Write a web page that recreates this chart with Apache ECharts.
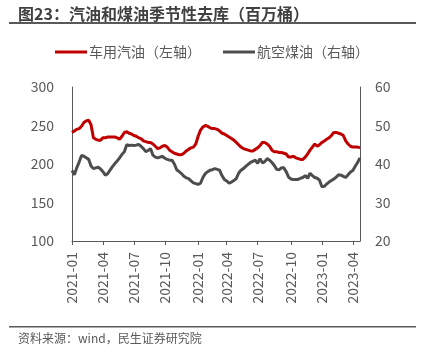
<!DOCTYPE html>
<html>
<head>
<meta charset="utf-8">
<script src="https://cdn.jsdelivr.net/npm/echarts@6/dist/echarts.min.js"></script>
<style>
html,body{margin:0;padding:0;background:#fff;}
#c{width:432px;height:362px;}
</style>
</head>
<body>
<div id="c"></div>
<script>
// weekly dates starting 2021-01-01 (122 weeks)
var startDate = '2021-01-01';
var weekCount = 122;
var quarterMonths = [1, 4, 7, 10];

var gasoline = [
241,243,245,246,249,254,256,257,251,234,
232,231,231,234,234,235,235,235,235,234,
232,236,241,242,240,239,237,236,234,233,
230,229,228,228,226,223,220,221,223,224,
222,218,216,214,213,212,212,214,217,219,
221,222,226,236,244,248,250,249,247,246,
246,245,243,240,239,237,235,233,231,228,
225,222,220,219,218,217,217,219,221,224,
228,228,226,223,218,216,216,215,215,214,
213,209,209,210,208,207,206,206,209,213,
218,222,226,223,225,228,230,232,234,237,
241,241,240,239,237,230,226,223,222,222,
222,221
];

var jetFuel = [
38.3,37.2,39.0,40.5,42.2,42.0,41.6,41.2,39.5,38.8,
39.0,39.2,38.7,38.0,37.1,37.5,38.4,39.3,40.1,40.8,
41.6,42.5,43.2,45.0,44.8,44.9,44.8,44.9,45.1,44.6,
44.0,43.2,43.5,44.0,42.3,41.8,41.6,41.8,42.0,41.5,
41.2,41.0,41.0,40.0,38.5,38.0,37.5,36.8,36.4,36.2,
35.6,35.1,34.9,34.7,35.0,36.5,37.5,38.0,38.4,38.5,
38.8,38.6,38.4,37.0,36.0,35.6,35.0,35.3,35.7,36.2,
37.6,38.4,38.8,39.4,39.9,40.4,40.7,41.0,40.2,41.4,
40.3,40.6,41.4,41.0,40.4,39.6,38.6,38.5,39.0,39.0,
38.0,36.6,36.1,36.0,36.0,36.0,36.3,36.5,37.0,36.3,
37.6,37.0,36.5,36.3,35.8,34.1,34.2,34.8,35.3,35.7,
36.1,36.6,37.2,37.1,36.8,36.5,37.2,37.9,38.3,39.4,
40.4,41.6
];

var leftTicks = {min: 100, max: 300, interval: 50};
var rightTicks = {min: 20, max: 60, interval: 10};

var seriesNames = ['车用汽油（左轴）', '航空煤油（右轴）'];
var titleText = '图23：汽油和煤油季节性去库（百万桶）';
var sourceText = '资料来源：wind，民生证券研究院';

function pad(n){ return (n < 10 ? '0' : '') + n; }
var dates = [];
(function(){
  var p = startDate.split('-');
  var t = Date.UTC(+p[0], +p[1]-1, +p[2]);
  for (var i = 0; i < weekCount; i++) {
    var d = new Date(t + i * 7 * 86400000);
    dates.push(d.getUTCFullYear() + '-' + pad(d.getUTCMonth()+1) + '-' + pad(d.getUTCDate()));
  }
})();
function isQuarterStart(idx, val){
  var p = val.split('-');
  return quarterMonths.indexOf(+p[1]) >= 0 && +p[2] <= 7;
}

var FONT = '"Noto Sans CJK SC", "Noto Sans", sans-serif';
var TXT = '#595959';
var chart = echarts.init(document.getElementById('c'), null, {renderer: 'canvas'});
chart.setOption({
  animation: false,
  backgroundColor: '#fff',
  textStyle: {fontFamily: FONT},
  legend: {
    data: seriesNames,
    top: 45, left: 55,
    padding: 0,
    icon: 'rect',
    itemWidth: 32, itemHeight: 3,
    itemGap: 22,
    textStyle: {fontSize: 14, color: TXT, fontFamily: FONT, padding: [0, 0, 0, -3]}
  },
  graphic: [
    {type: 'text', left: 18, top: 6, style: {text: titleText, fontSize: 16, fontWeight: 'bold', fill: '#404040', fontFamily: FONT}},
    {type: 'rect', shape: {x: 9, y: 22, width: 407, height: 2}, style: {fill: '#595959'}},
    {type: 'rect', shape: {x: 9, y: 326, width: 407, height: 1.5}, style: {fill: '#595959'}},
    {type: 'text', left: 18, top: 332, style: {text: sourceText, fontSize: 12, fill: TXT, fontFamily: FONT}}
  ],
  grid: {left: 72, right: 72, top: 87, bottom: 121, outerBoundsMode: 'none', containLabel: false},
  xAxis: {
    type: 'category',
    data: dates,
    boundaryGap: false,
    axisLine: {lineStyle: {color: '#595959', width: 1}},
    axisTick: {show: true, interval: isQuarterStart, length: 4, lineStyle: {color: '#595959'}},
    axisLabel: {
      interval: isQuarterStart,
      rotate: 90,
      margin: 11,
      fontSize: 14,
      color: TXT,
      fontFamily: FONT,
      formatter: function(v){ return v.slice(0, 7); }
    },
    splitLine: {show: false}
  },
  yAxis: [
    {
      type: 'value', position: 'left',
      min: leftTicks.min, max: leftTicks.max, interval: leftTicks.interval,
      axisLine: {show: true, lineStyle: {color: '#595959'}},
      axisTick: {show: false},
      axisLabel: {fontSize: 14, color: TXT, margin: 18, fontFamily: FONT},
      splitLine: {show: false}
    },
    {
      type: 'value', position: 'right',
      min: rightTicks.min, max: rightTicks.max, interval: rightTicks.interval,
      axisLine: {show: true, lineStyle: {color: '#595959'}},
      axisTick: {show: false},
      axisLabel: {fontSize: 14, color: TXT, margin: 15, fontFamily: FONT},
      splitLine: {show: false}
    }
  ],
  series: [
    {
      name: seriesNames[0], type: 'line', yAxisIndex: 0,
      data: gasoline, symbol: 'none', smooth: false,
      lineStyle: {color: '#C00000', width: 3}, itemStyle: {color: '#C00000'}
    },
    {
      name: seriesNames[1], type: 'line', yAxisIndex: 1,
      data: jetFuel, symbol: 'none', smooth: false,
      lineStyle: {color: '#4D4D4D', width: 3}, itemStyle: {color: '#4D4D4D'}
    }
  ]
});
</script>
</body>
</html>
